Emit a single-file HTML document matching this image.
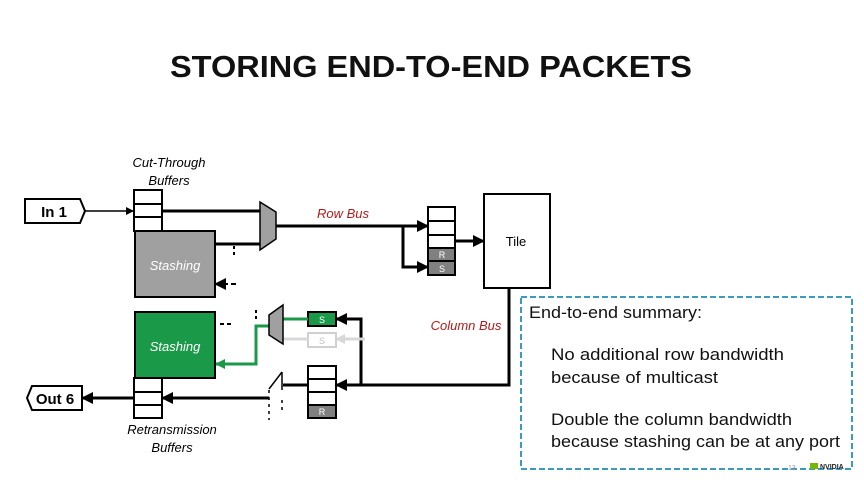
<!DOCTYPE html>
<html><head><meta charset="utf-8"><style>
body{margin:0;background:#fff;}
svg{display:block;font-family:"Liberation Sans","DejaVu Sans",sans-serif;}
</style></head><body>
<svg width="864" height="486" viewBox="0 0 864 486">
<defs>
<marker id="a" markerWidth="8" markerHeight="8" refX="7" refY="4" orient="auto" markerUnits="userSpaceOnUse"><path d="M0,0 L8,4 L0,8z" fill="#000"/></marker>
<marker id="ab" markerWidth="12" markerHeight="12" refX="11" refY="6" orient="auto" markerUnits="userSpaceOnUse"><path d="M0,0 L12,6 L0,12z" fill="#000"/></marker>
<marker id="ag" markerWidth="10" markerHeight="10" refX="9" refY="5" orient="auto" markerUnits="userSpaceOnUse"><path d="M0,0 L10,5 L0,10z" fill="#1a9a48"/></marker>
<marker id="al" markerWidth="10" markerHeight="10" refX="9" refY="5" orient="auto" markerUnits="userSpaceOnUse"><path d="M0,0 L10,5 L0,10z" fill="#d8d8d8"/></marker>
</defs>
<text x="170" y="77" font-size="31" font-weight="bold" fill="#111" textLength="522" lengthAdjust="spacingAndGlyphs">STORING END-TO-END PACKETS</text>

<text x="169" y="167" text-anchor="middle" font-size="13" font-style="italic">Cut-Through</text>
<text x="169" y="185" text-anchor="middle" font-size="13" font-style="italic">Buffers</text>

<path d="M25,199 H80 L85,211 L80,223 H25Z" fill="#fff" stroke="#000" stroke-width="2"/>
<text x="54" y="217" text-anchor="middle" font-size="15" font-weight="bold">In 1</text>
<line x1="85" y1="211" x2="133" y2="211" stroke="#000" stroke-width="1.5" marker-end="url(#a)"/>

<g fill="#fff" stroke="#000" stroke-width="2">
<rect x="134" y="190" width="28" height="41"/>
<line x1="134" y1="204" x2="162" y2="204"/><line x1="134" y1="217" x2="162" y2="217"/>
</g>
<rect x="135" y="231" width="80" height="66" fill="#a0a0a0" stroke="#000" stroke-width="2"/>
<text x="175" y="270" text-anchor="middle" font-size="13" font-style="italic" fill="#fff">Stashing</text>

<line x1="162" y1="211" x2="260" y2="211" stroke="#000" stroke-width="3"/>
<line x1="215" y1="244" x2="260" y2="244" stroke="#000" stroke-width="3"/>
<line x1="234" y1="246" x2="234" y2="258" stroke="#000" stroke-width="2" stroke-dasharray="3,3"/>
<line x1="236" y1="284" x2="215" y2="284" stroke="#000" stroke-width="2" stroke-dasharray="5,3" marker-end="url(#ab)"/>
<path d="M260,202 L276,212 L276,239 L260,250Z" fill="#a0a0a0" stroke="#000" stroke-width="1.5"/>

<text x="343" y="218" text-anchor="middle" font-size="13" font-style="italic" fill="#b01c1c">Row Bus</text>
<polyline points="276,226 403,226" fill="none" stroke="#000" stroke-width="3"/>
<line x1="395" y1="226" x2="428" y2="226" stroke="#000" stroke-width="3" marker-end="url(#ab)"/>
<polyline points="403,226 403,267 428,267" fill="none" stroke="#000" stroke-width="3" marker-end="url(#ab)"/>

<g stroke="#000" stroke-width="2">
<rect x="428" y="207" width="27" height="68" fill="#fff"/>
<line x1="428" y1="221" x2="455" y2="221"/><line x1="428" y1="235" x2="455" y2="235"/>
<rect x="428" y="248" width="27" height="13" fill="#808080"/>
<rect x="428" y="261" width="27" height="14" fill="#808080"/>
</g>
<text x="442" y="258" text-anchor="middle" font-size="9" fill="#fff">R</text>
<text x="442" y="272" text-anchor="middle" font-size="9" fill="#fff">S</text>
<line x1="455" y1="241" x2="484" y2="241" stroke="#000" stroke-width="3" marker-end="url(#ab)"/>
<rect x="484" y="194" width="66" height="94" fill="#fff" stroke="#000" stroke-width="2"/>
<text x="516" y="246" text-anchor="middle" font-size="13">Tile</text>

<text x="466" y="330" text-anchor="middle" font-size="13" font-style="italic" fill="#b01c1c">Column Bus</text>
<polyline points="509,288 509,385 336,385" fill="none" stroke="#000" stroke-width="3" marker-end="url(#ab)"/>
<polyline points="361,385 361,319 336,319" fill="none" stroke="#000" stroke-width="3" marker-end="url(#ab)"/>
<line x1="365" y1="339" x2="336" y2="339" stroke="#d8d8d8" stroke-width="3" marker-end="url(#al)"/>

<rect x="308" y="312" width="28" height="14" fill="#1a9a48" stroke="#000" stroke-width="2"/>
<text x="322" y="323" text-anchor="middle" font-size="9" fill="#fff">S</text>
<rect x="308" y="333" width="28" height="14" fill="#fff" stroke="#d0d0d0" stroke-width="2"/>
<text x="322" y="344" text-anchor="middle" font-size="9" fill="#c0c0c0">S</text>
<line x1="283" y1="339" x2="308" y2="339" stroke="#d8d8d8" stroke-width="3"/>

<g stroke="#000" stroke-width="2">
<rect x="308" y="366" width="28" height="52" fill="#fff"/>
<line x1="308" y1="379" x2="336" y2="379"/><line x1="308" y1="392" x2="336" y2="392"/>
<rect x="308" y="405" width="28" height="13" fill="#808080"/>
</g>
<text x="322" y="415" text-anchor="middle" font-size="9" fill="#fff">R</text>

<line x1="283" y1="319" x2="308" y2="319" stroke="#1a9a48" stroke-width="3"/>
<polyline points="269,326 256,326 256,364 216,364" fill="none" stroke="#1a9a48" stroke-width="3" marker-end="url(#ag)"/>
<path d="M269,315 L283,305 L283,344 L269,335Z" fill="#a0a0a0" stroke="#000" stroke-width="1.5"/>
<line x1="256" y1="310" x2="256" y2="322" stroke="#000" stroke-width="2" stroke-dasharray="3,3"/>
<line x1="220" y1="324" x2="232" y2="324" stroke="#000" stroke-width="2" stroke-dasharray="4,3"/>

<rect x="135" y="312" width="80" height="66" fill="#1a9a48" stroke="#000" stroke-width="2"/>
<text x="175" y="351" text-anchor="middle" font-size="13" font-style="italic" fill="#fff">Stashing</text>
<g fill="#fff" stroke="#000" stroke-width="2">
<rect x="134" y="378" width="28" height="40"/>
<line x1="134" y1="392" x2="162" y2="392"/><line x1="134" y1="405" x2="162" y2="405"/>
</g>

<line x1="283" y1="385" x2="308" y2="385" stroke="#000" stroke-width="3"/>
<line x1="269" y1="389" x2="282" y2="372" stroke="#000" stroke-width="1.5"/>
<line x1="282" y1="372" x2="282" y2="390" stroke="#000" stroke-width="1.5"/>
<line x1="269" y1="390" x2="269" y2="420" stroke="#000" stroke-width="1.5" stroke-dasharray="3,4"/>
<line x1="282" y1="400" x2="282" y2="414" stroke="#000" stroke-width="1.5" stroke-dasharray="3,4"/>
<line x1="269" y1="398" x2="162" y2="398" stroke="#000" stroke-width="3" marker-end="url(#ab)"/>
<line x1="134" y1="398" x2="82" y2="398" stroke="#000" stroke-width="3" marker-end="url(#ab)"/>

<path d="M32,386 H82 V410 H32 L27,398Z" fill="#fff" stroke="#000" stroke-width="2"/>
<text x="55" y="404" text-anchor="middle" font-size="15" font-weight="bold">Out 6</text>

<text x="172" y="434" text-anchor="middle" font-size="13" font-style="italic">Retransmission</text>
<text x="172" y="452" text-anchor="middle" font-size="13" font-style="italic">Buffers</text>

<rect x="521" y="297" width="331" height="172" fill="none" stroke="#3a9bbf" stroke-width="2" stroke-dasharray="6,3"/>
<g font-size="17" fill="#111" lengthAdjust="spacingAndGlyphs">
<text x="529" y="318" textLength="173" lengthAdjust="spacingAndGlyphs">End-to-end summary:</text>
<text x="551" y="360" textLength="233" lengthAdjust="spacingAndGlyphs">No additional row bandwidth</text>
<text x="551" y="383" textLength="167" lengthAdjust="spacingAndGlyphs">because of multicast</text>
<text x="551" y="425" textLength="241" lengthAdjust="spacingAndGlyphs">Double the column bandwidth</text>
<text x="551" y="447" textLength="289" lengthAdjust="spacingAndGlyphs">because stashing can be at any port</text>
</g>
<text x="788" y="470" font-size="7" fill="#999">13</text>
<rect x="810" y="463" width="8" height="6" fill="#76b900"/>
<text x="820" y="469" font-size="7" font-weight="bold" fill="#222">NVIDIA</text>
</svg>
</body></html>
